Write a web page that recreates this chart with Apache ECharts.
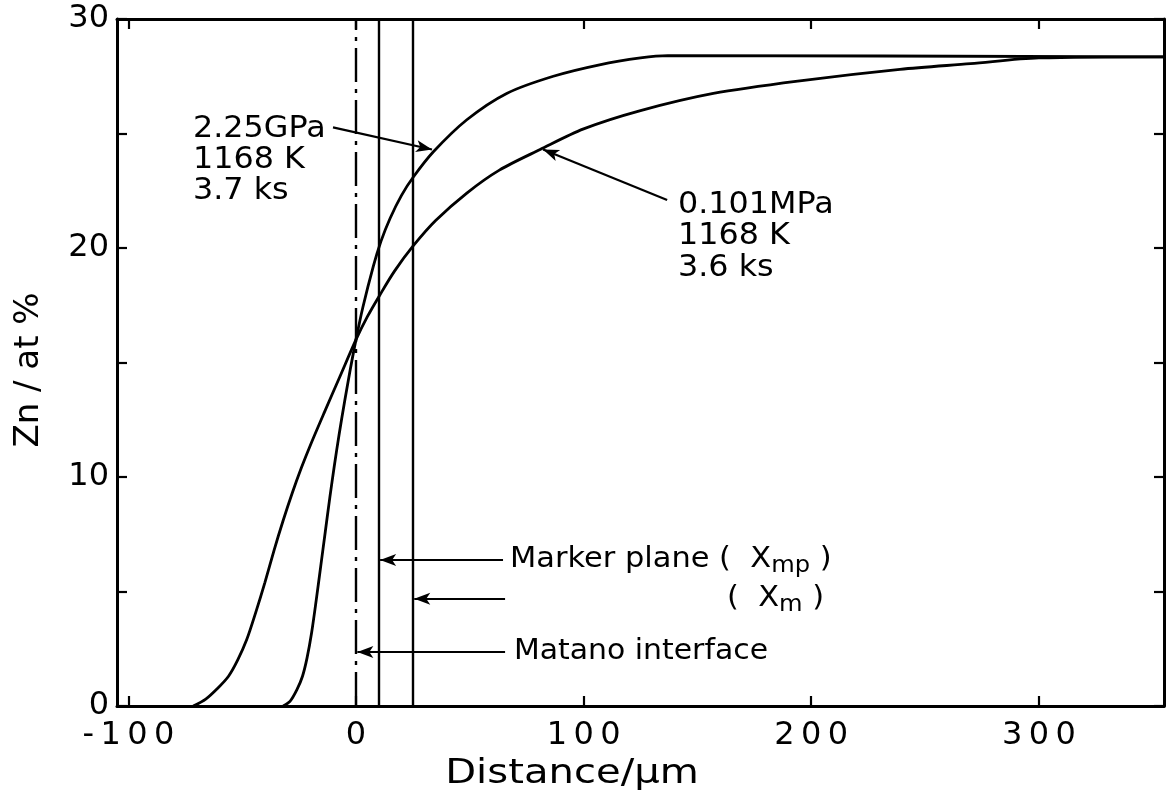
<!DOCTYPE html>
<html>
<head>
<meta charset="utf-8">
<title>Zn concentration profiles</title>
<script src="https://cdn.jsdelivr.net/npm/echarts@6/dist/echarts.min.js"></script>
<style>
  html, body { margin: 0; padding: 0; background: #fff; }
  #main { width: 1166px; height: 802px; }
</style>
</head>
<body>
<div id="main"></div>
<script>
// Tick positions
const xTicks = [-100, 0, 100, 200, 300];
const yLabelTicks = [0, 10, 20, 30];
const yTicks = [0, 5, 10, 15, 20, 25, 30];

// Zn profile after 3.7 ks at 2.25 GPa, 1168 K  (distance µm, Zn at%)
const profileHighP = [
  [-32, 0], [-29, 0.2], [-26, 0.7], [-23.5, 1.3], [-21.5, 2.1], [-19.5, 3.2],
  [-17.5, 4.6], [-15.5, 6.1], [-13.5, 7.6], [-11.5, 9.1], [-9.5, 10.5], [-7.5, 11.8],
  [-5, 13.3], [-2.5, 14.7], [0, 16.0], [3, 17.4], [7.6, 19.2], [11, 20.3],
  [15, 21.3], [20, 22.3], [25.2, 23.1], [34, 24.2], [48.7, 25.6], [66.2, 26.75],
  [86.7, 27.5], [107, 28.0], [125, 28.3], [137, 28.4], [355, 28.35]
];

// Zn profile after 3.6 ks at 0.101 MPa, 1168 K
const profileLowP = [
  [-71.5, 0], [-66, 0.3], [-61, 0.75], [-56, 1.3], [-52, 2.0], [-48, 2.9],
  [-44, 4.1], [-40, 5.4], [-36, 6.8], [-32, 8.1], [-28, 9.3], [-24, 10.4],
  [-20, 11.4], [-14, 12.8], [-7, 14.4], [0, 16.0], [5, 17.0], [10.5, 17.95],
  [17, 19.0], [25.2, 20.1], [35, 21.2], [48.7, 22.4], [63, 23.4], [80.9, 24.3],
  [100, 25.2], [125, 26.0], [157, 26.75], [195, 27.3], [239, 27.8], [270, 28.05],
  [300, 28.3], [355, 28.35]
];

// Reference planes (µm)
const matanoPlane = 0;
const markerPlaneXmp = 10;
const markerPlaneXm = 25;

const FONT = 'DejaVu Sans';
const ink = '#000';
const THIN = '\u2009';

const chart = echarts.init(document.getElementById('main'), null, { renderer: 'canvas' });

const tickStyle = { color: ink, width: 2.2 };
const axisLineStyle = { color: ink, width: 3 };

const xBottom = {
  type: 'value', position: 'bottom', min: -105, max: 355,
  axisLine: { show: true, onZero: false, lineStyle: axisLineStyle },
  splitLine: { show: false },
  axisTick: { show: true, inside: true, length: 10, lineStyle: tickStyle, customValues: xTicks },
  axisLabel: {
    show: true, customValues: xTicks, color: ink, fontFamily: FONT, fontSize: 32, margin: 14,
    // spaced-out lettering of the tick numbers
    formatter: v => String(v).split('').join(THIN)
  }
};
const xTop = {
  type: 'value', position: 'top', min: -105, max: 355,
  axisLine: { show: true, onZero: false, lineStyle: axisLineStyle },
  splitLine: { show: false },
  axisLabel: { show: false },
  axisTick: { show: true, inside: true, length: 10, lineStyle: tickStyle, customValues: xTicks }
};
const yLeft = {
  type: 'value', position: 'left', min: 0, max: 30,
  axisLine: { show: true, onZero: false, lineStyle: axisLineStyle },
  splitLine: { show: false },
  axisTick: { show: true, inside: true, length: 10, lineStyle: tickStyle, customValues: yTicks },
  axisLabel: { show: true, customValues: yLabelTicks, color: ink, fontFamily: FONT, fontSize: 32, margin: 8, padding: [8, 0, 0, 0] }
};
const yRight = {
  type: 'value', position: 'right', min: 0, max: 30,
  axisLine: { show: true, onZero: false, lineStyle: axisLineStyle },
  splitLine: { show: false },
  axisLabel: { show: false },
  axisTick: { show: true, inside: true, length: 10, lineStyle: tickStyle, customValues: yTicks }
};

const curveStyle = { color: ink, width: 2.8 };

const annotationRich = {
  t: { fontFamily: FONT, fontSize: 29, lineHeight: 30, verticalAlign: 'top', color: ink },
  s: { fontFamily: FONT, fontSize: 23, lineHeight: 26, padding: [10, 0, 0, 0], verticalAlign: 'top', color: ink }
};

const option = {
  animation: false,
  backgroundColor: '#fff',
  grid: { left: 117, right: 2, top: 19, bottom: 96 },
  xAxis: [xBottom, xTop],
  yAxis: [yLeft, yRight],
  series: [
    {
      name: '2.25 GPa',
      type: 'line',
      data: profileHighP,
      showSymbol: false,
      smooth: 0.3,
      lineStyle: curveStyle,
      z: 3,
      markLine: {
        silent: true,
        symbol: ['none', 'none'],
        label: { show: false },
        animation: false,
        data: [
          { xAxis: matanoPlane, lineStyle: { color: ink, width: 2.4, type: [34, 7, 4, 7] } },
          { xAxis: markerPlaneXmp, lineStyle: { color: ink, width: 2.4, type: 'solid' } },
          { xAxis: markerPlaneXm, lineStyle: { color: ink, width: 2.4, type: 'solid' } }
        ]
      }
    },
    {
      name: '0.101 MPa',
      type: 'line',
      data: profileLowP,
      showSymbol: false,
      smooth: 0.3,
      lineStyle: curveStyle,
      z: 3,
      // leader arrows for the annotations
      markLine: {
        silent: true,
        symbol: ['none', 'arrow'],
        symbolSize: [9, 16],
        label: { show: false },
        animation: false,
        lineStyle: { color: ink, width: 2.2, type: 'solid' },
        data: [
          [{ coord: [-10.1, 25.27] }, { coord: [33.4, 24.3] }],
          [{ coord: [136.7, 22.1] }, { coord: [82.2, 24.3] }],
          [{ coord: [64.6, 6.38] }, { coord: [markerPlaneXmp + 0.6, 6.38] }],
          [{ coord: [65.5, 4.68] }, { coord: [markerPlaneXm + 0.6, 4.68] }],
          [{ coord: [65.5, 2.36] }, { coord: [matanoPlane + 0.6, 2.36] }]
        ]
      }
    }
  ],
  graphic: [
    {
      type: 'text', left: 193, top: 114, scaleX: 1.06,
      style: { text: '2.25GPa\n1168 K\n3.7 ks', font: '30px "' + FONT + '"', lineHeight: 31, fill: ink }
    },
    {
      type: 'text', left: 678, top: 189, scaleX: 1.06,
      style: { text: '0.101MPa\n1168 K\n3.6 ks', font: '30px "' + FONT + '"', lineHeight: 31.5, fill: ink }
    },
    {
      type: 'text', left: 510, top: 545, scaleX: 1.05,
      style: { text: '{t|Marker plane (  X}{s|mp}{t| )}', fill: ink, rich: annotationRich }
    },
    {
      type: 'text', left: 727, top: 584, scaleX: 1.05,
      style: { text: '{t|(  X}{s|m}{t| )}', fill: ink, rich: annotationRich }
    },
    {
      type: 'text', left: 514, top: 637, scaleX: 1.03,
      style: { text: 'Matano interface', font: '29px "' + FONT + '"', fill: ink }
    },
    {
      type: 'text', x: 572, y: 774, scaleX: 1.18,
      style: { text: 'Distance/μm', font: '34px "' + FONT + '"', fill: ink, align: 'center', verticalAlign: 'middle' }
    },
    {
      type: 'text', x: 29, y: 370, rotation: Math.PI / 2,
      style: { text: 'Zn / at %', font: '34px "' + FONT + '"', fill: ink, align: 'center', verticalAlign: 'middle' }
    }
  ]
};

chart.setOption(option);
</script>
</body>
</html>
